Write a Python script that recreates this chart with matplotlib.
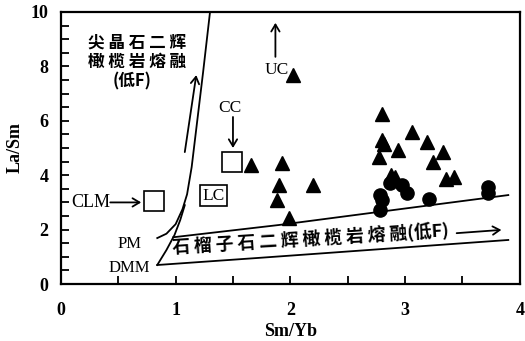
import matplotlib
matplotlib.use("Agg")
import matplotlib.pyplot as plt
from matplotlib.ticker import MultipleLocator

# ---- data ----
tri_x = [2.02, 1.66, 1.93, 1.90, 2.20, 1.88, 1.99, 2.80, 3.06, 2.80, 2.82, 2.94,
         3.19, 3.33, 2.77, 3.24, 3.36, 3.43, 2.88, 2.91]
tri_y = [7.68, 4.38, 4.45, 3.64, 3.64, 3.09, 2.43, 6.25, 5.59, 5.29, 5.15, 4.93,
         5.22, 4.85, 4.67, 4.49, 3.86, 3.93, 4.00, 3.93]
cir_x = [2.78, 2.80, 2.87, 2.97, 3.02, 2.78, 3.21, 3.72, 3.72]
cir_y = [3.27, 3.09, 3.71, 3.64, 3.35, 2.72, 3.13, 3.57, 3.35]

# reference compositions (open squares)
ref_names = ["CLM", "CC"]
ref_x = [0.81, 1.49]
ref_y = [3.05, 4.48]

# melting curves
sp_pm_x = [0.84, 0.92, 1.00, 1.06, 1.10, 1.14, 1.18, 1.24, 1.30]
sp_pm_y = [1.69, 1.85, 2.20, 2.75, 3.30, 4.30, 5.70, 7.80, 10.0]
sp_dmm_x = [0.84, 0.92, 0.99, 1.04, 1.08]
sp_dmm_y = [0.70, 1.25, 1.80, 2.35, 2.90]
gt_up_x = [0.98, 1.90, 2.77, 3.90]
gt_up_y = [1.72, 2.17, 2.65, 3.27]
gt_lo_x = [0.84, 1.72, 3.90]
gt_lo_y = [0.70, 0.96, 1.62]

x_ticks = [0, 1, 2, 3, 4]
y_ticks = [0, 2, 4, 6, 8, 10]

serif = "Liberation Serif"
cjk = ["Noto Sans CJK SC", "DejaVu Sans"]

fig = plt.figure(figsize=(5.25, 3.41), dpi=100)
ax = fig.add_axes([0.116, 0.167, 0.874, 0.798])
ax.set_xlim(0, 4)
ax.set_ylim(0, 10)

lw = 1.3
ax.plot(sp_pm_x, sp_pm_y, color="black", lw=lw)
ax.plot(sp_dmm_x, sp_dmm_y, color="black", lw=lw)
ax.plot(gt_up_x, gt_up_y, color="black", lw=lw)
ax.plot(gt_lo_x, gt_lo_y, color="black", lw=lw)

ax.plot(tri_x, tri_y, linestyle="none", marker="^", ms=10, color="black")
ax.plot(cir_x, cir_y, linestyle="none", marker="o", ms=9.5, color="black")
ax.plot(ref_x, ref_y, linestyle="none", marker="s", ms=15, mfc="white",
        mec="black", mew=1.2)

ap_open = dict(arrowstyle="->,head_length=0.5,head_width=0.3", color="black", lw=1.3,
               shrinkA=0, shrinkB=0)

# CLM
ax.text(0.26, 3.0, "CLM", family=serif, fontsize=13, ha="center", va="center")
ax.annotate("", xy=(0.70, 3.0), xytext=(0.43, 3.0), arrowprops=ap_open)
# CC
ax.text(1.47, 6.47, "CC", family=serif, fontsize=12.5, ha="center", va="center")
ax.annotate("", xy=(1.50, 5.0), xytext=(1.50, 6.14), arrowprops=ap_open)
# UC
ax.text(1.88, 7.87, "UC", family=serif, fontsize=12.5, ha="center", va="center")
ax.annotate("", xy=(1.87, 9.6), xytext=(1.87, 8.35), arrowprops=ap_open)
# LC
ax.text(1.33, 3.24, "LC", family=serif, fontsize=12.5, ha="center", va="center",
        bbox=dict(boxstyle="square,pad=0.15", fc="white", ec="black", lw=1.2))
# PM / DMM
ax.text(0.60, 1.47, "PM", family=serif, fontsize=12, ha="center", va="center")
ax.text(0.60, 0.59, "DMM", family=serif, fontsize=12, ha="center", va="center")

# spinel melting label
ax.text(0.66, 8.86, "尖 晶 石 二 辉", family=cjk, fontsize=12, fontweight="bold",
        ha="center", va="center")
ax.text(0.66, 8.16, "橄 榄 岩 熔 融", family=cjk, fontsize=12, fontweight="bold",
        ha="center", va="center")
ax.text(0.62, 7.43, "(低F)", family=cjk, fontsize=12, fontweight="bold",
        ha="center", va="center")
ax.annotate("", xy=(1.18, 7.68), xytext=(1.08, 4.85), arrowprops=ap_open)

# garnet melting label
ax.text(0.97, 1.33, "石 榴 子 石 二 辉 橄 榄 岩 熔 融(低F)", family=cjk, fontsize=12.8,
        fontweight="bold", ha="left", va="center", rotation=3.5,
        rotation_mode="anchor")
ax.annotate("", xy=(3.84, 1.99), xytext=(3.45, 1.87), arrowprops=ap_open)

# axes styling
for s in ax.spines.values():
    s.set_linewidth(1.6)
ax.set_xticks(x_ticks)
ax.set_yticks(y_ticks)
ax.xaxis.set_minor_locator(MultipleLocator(0.5))
ax.yaxis.set_minor_locator(MultipleLocator(0.5))
ax.tick_params(which="both", direction="in", length=6, width=1.3,
               top=False, right=False)
ax.tick_params(axis="x", which="major", pad=13)
ax.tick_params(axis="y", which="major", pad=9)
for lab in ax.get_xticklabels() + ax.get_yticklabels():
    lab.set_family(serif)
    lab.set_fontweight("bold")
    lab.set_fontsize(13)

ax.set_xlabel("Sm/Yb", family=serif, fontweight="bold", fontsize=13, labelpad=3)
ax.set_ylabel("La/Sm", family=serif, fontweight="bold", fontsize=13, labelpad=5)

fig.savefig("out.png", dpi=100)
